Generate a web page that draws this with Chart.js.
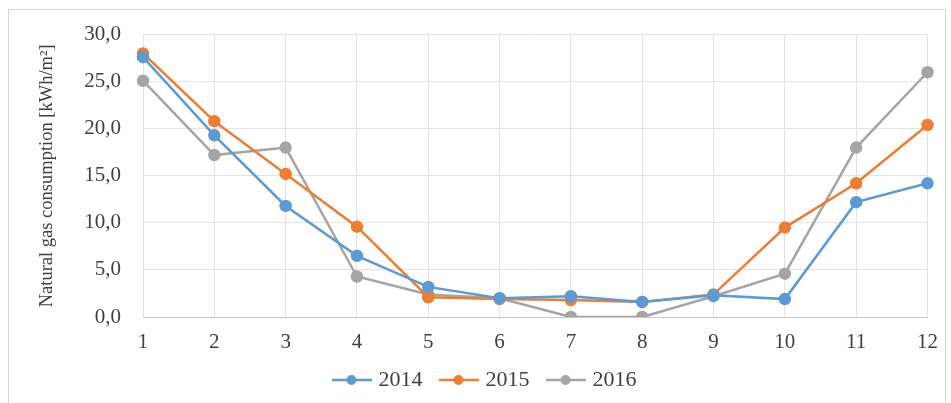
<!DOCTYPE html>
<html>
<head>
<meta charset="utf-8">
<script src="https://cdn.jsdelivr.net/npm/chart.js@4"></script>
<style>
  html, body { margin: 0; padding: 0; background: #ffffff; overflow: hidden; }
  #frame { position: absolute; left: 8px; top: 9px; width: 936px; height: 420px; border: 1px solid #d9d9d9; }
  #wrap { position: absolute; left: 0; top: 0; width: 951px; height: 403px; }
</style>
</head>
<body>
<div id="frame"></div>
<div id="wrap"><canvas id="chart"></canvas></div>
<script>
const months = ["1", "2", "3", "4", "5", "6", "7", "8", "9", "10", "11", "12"];
const gas2014 = [27.6, 19.3, 11.8, 6.5, 3.2, 2.0, 2.2, 1.6, 2.3, 1.9, 12.2, 14.2];
const gas2015 = [28.0, 20.8, 15.2, 9.6, 2.1, 1.9, 1.8, 1.6, 2.4, 9.5, 14.2, 20.4];
const gas2016 = [25.1, 17.2, 18.0, 4.3, 2.4, 2.0, 0.0, 0.0, 2.2, 4.6, 18.0, 26.0];
const seriesNames = ["2014", "2015", "2016"];
const colors = ["#5b9bd5", "#ed7d31", "#a5a5a5"];

const serif = "'Liberation Serif', 'DejaVu Serif', serif";

function legendMarker(color) {
  const c = document.createElement("canvas");
  c.width = 40;
  c.height = 12;
  const ctx = c.getContext("2d");
  ctx.strokeStyle = color;
  ctx.lineWidth = 2.5;
  ctx.beginPath();
  ctx.moveTo(0, 6);
  ctx.lineTo(40, 6);
  ctx.stroke();
  ctx.fillStyle = color;
  ctx.beginPath();
  ctx.arc(20, 6, 5, 0, Math.PI * 2);
  ctx.fill();
  return c;
}

function makeSeries(name, values, color) {
  return {
    label: name,
    data: values,
    borderColor: color,
    backgroundColor: color,
    borderWidth: 2.5,
    pointRadius: 5,
    pointHoverRadius: 5,
    pointBackgroundColor: color,
    pointBorderColor: color,
    tension: 0,
    fill: false
  };
}

// nudge the legend a bit right, like the original
const legendShift = {
  id: "legendShift",
  afterLayout(chart) {
    chart.legend.left += 22;
    chart.legend.right += 22;
  }
};

new Chart(document.getElementById("chart"), {
  type: "line",
  data: {
    labels: months,
    datasets: [
      makeSeries(seriesNames[0], gas2014, colors[0]),
      makeSeries(seriesNames[1], gas2015, colors[1]),
      makeSeries(seriesNames[2], gas2016, colors[2])
    ]
  },
  plugins: [legendShift],
  options: {
    responsive: true,
    maintainAspectRatio: false,
    animation: false,
    layout: { padding: { left: 0, right: 23, top: 26, bottom: 2 } },
    plugins: {
      tooltip: { enabled: false },
      legend: {
        position: "bottom",
        labels: {
          usePointStyle: true,
          pointStyleWidth: 32,
          padding: 20,
          color: "#404040",
          font: { family: serif, size: 22 },
          generateLabels: (chart) => chart.data.datasets.map((ds, i) => ({
            text: ds.label,
            pointStyle: legendMarker(colors[i]),
            fillStyle: colors[i],
            strokeStyle: colors[i],
            lineWidth: 0,
            hidden: false,
            datasetIndex: i,
            fontColor: "#404040"
          }))
        }
      }
    },
    scales: {
      x: {
        offset: false,
        grid: { color: "#e3e3e3", drawTicks: false },
        border: { color: "#c8c8c8" },
        ticks: { color: "#404040", padding: 13, font: { family: serif, size: 21 } },
        afterFit: (scale) => { scale.height = 32; }
      },
      y: {
        min: 0,
        max: 30,
        grid: { color: "#e3e3e3", drawTicks: false },
        border: { display: false },
        ticks: {
          stepSize: 5,
          color: "#404040",
          padding: 22,
          font: { family: serif, size: 21 },
          callback: (v) => v.toFixed(1).replace(".", ",")
        },
        title: {
          display: true,
          text: "Natural gas consumption [kWh/m²]",
          color: "#404040",
          font: { family: serif, size: 18.5 },
          padding: { top: 36, bottom: 0 }
        },
        afterFit: (scale) => { scale.width = 143; }
      }
    }
  }
});
</script>
</body>
</html>
